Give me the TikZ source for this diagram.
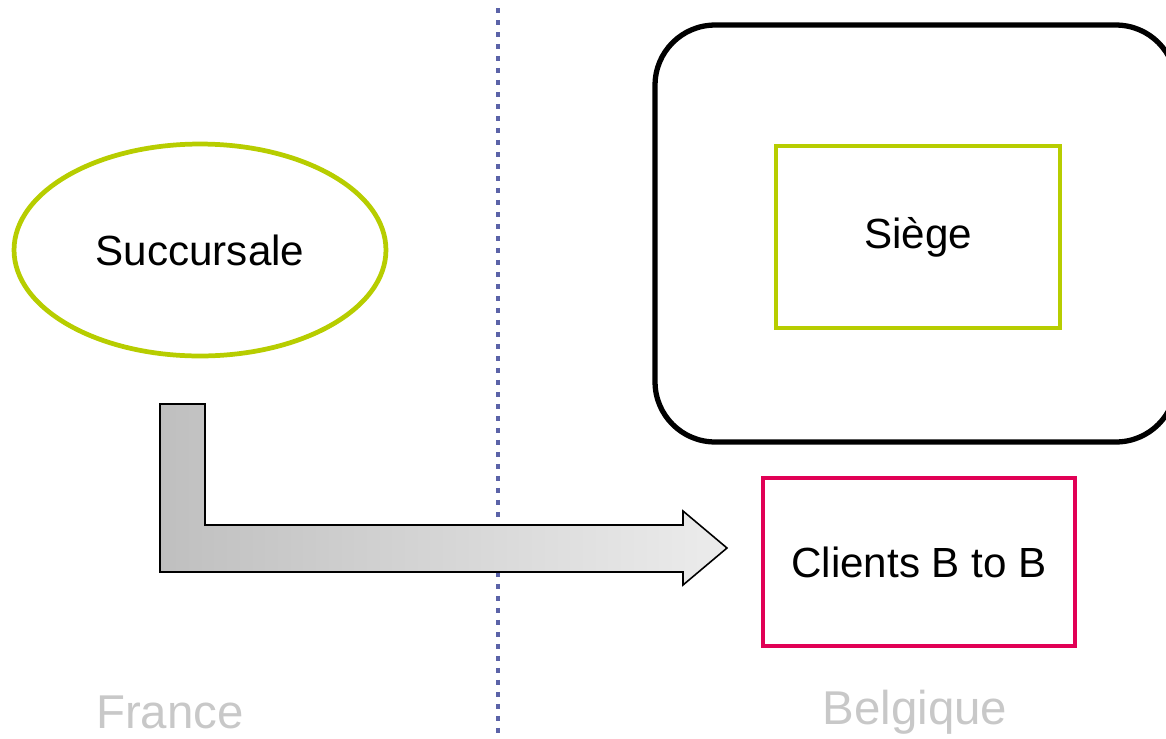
\documentclass[tikz,border=0pt]{standalone}
\usepackage{fontspec}
\setmainfont{Liberation Sans}
\usepackage{tikz}
\usetikzlibrary{shapes,positioning,calc}
\definecolor{leafgreen}{RGB}{183,205,0}
\definecolor{clientred}{RGB}{225,0,85}
\definecolor{borderblue}{RGB}{91,99,168}
\definecolor{countrygray}{RGB}{200,200,200}
\tikzset{
  entitybox/.style={draw=leafgreen, line width=2.7pt, inner sep=0pt, font=\fontsize{24}{28}\selectfont},
  clientbox/.style={draw=clientred, line width=2.7pt, inner sep=0pt, font=\fontsize{24}{28}\selectfont},
  countrylabel/.style={text=countrygray, font=\fontsize{27}{32}\selectfont}
}

\begin{document}
\begin{tikzpicture}[x=0.02cm, y=-0.02cm]
  \useasboundingbox (0,0) rectangle (1166,738);

  % border between the two countries
  \draw[borderblue, line width=2.8pt, dash pattern=on 0.1cm off 0.14cm] (498,8) -- (498,738);

  \node[entitybox, ellipse, minimum width=7.44cm, minimum height=4.24cm] (succ) at (200,250) {Succursale};
  \node[draw, line width=3pt, rounded corners=1.2cm, minimum width=10.42cm, minimum height=8.34cm] (hq) at (915.5,233.5) {};
  \node[entitybox, minimum width=5.68cm, minimum height=3.64cm] (siege) at (918,237) {Siège};
  \node[clientbox, minimum width=6.24cm, minimum height=3.36cm] (clients) at (919,562) {Clients B to B};

  % block arrow
  \draw[line width=0.9pt, left color=gray!50, right color=gray!15]
    (160,404) -- (205,404) -- (205,525) -- (683,525) -- (683,511) -- (727,548)
    -- (683,585) -- (683,572) -- (160,572) -- cycle;

  \node[countrylabel] (france) at (170,712) {France};
  \node[countrylabel] (belgique) at (915,712) {Belgique};
\end{tikzpicture}
\end{document}
